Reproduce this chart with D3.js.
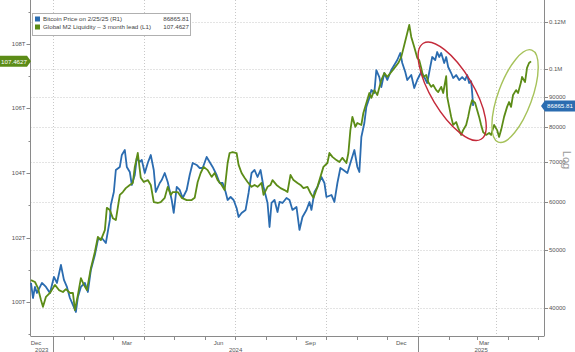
<!DOCTYPE html>
<html>
<head>
<meta charset="utf-8">
<script src="https://cdn.jsdelivr.net/npm/d3@7"></script>
<style>
  body { margin: 0; background: #fff; }
  svg { display: block; }
  text { font-family: "Liberation Sans", Arial, sans-serif; }
</style>
</head>
<body>
<div id="graphic"></div>
<script>
// bitcoin price (right axis, log) and global M2 shifted 3 months (left axis)

var btcDates = ["2023-12-10","2023-12-12","2023-12-14","2023-12-16","2023-12-21","2023-12-25","2023-12-29",
  "2024-01-02","2024-01-05","2024-01-09","2024-01-12","2024-01-15","2024-01-18","2024-01-21","2024-01-24","2024-01-26","2024-01-29",
  "2024-02-02","2024-02-05","2024-02-08","2024-02-12","2024-02-15","2024-02-19","2024-02-23","2024-02-27","2024-02-28",
  "2024-03-02","2024-03-04","2024-03-08","2024-03-10","2024-03-13","2024-03-15","2024-03-18","2024-03-20","2024-03-23","2024-03-25","2024-03-28","2024-03-30",
  "2024-04-02","2024-04-05","2024-04-08","2024-04-11","2024-04-13","2024-04-17","2024-04-19","2024-04-22","2024-04-25","2024-04-29",
  "2024-05-01","2024-05-04","2024-05-07","2024-05-10","2024-05-14","2024-05-17","2024-05-20","2024-05-24","2024-05-27","2024-05-30",
  "2024-06-03","2024-06-06","2024-06-09","2024-06-13","2024-06-16","2024-06-19","2024-06-22","2024-06-24","2024-06-27","2024-06-30",
  "2024-07-03","2024-07-05","2024-07-08","2024-07-12","2024-07-15","2024-07-18","2024-07-21","2024-07-24","2024-07-27","2024-07-30",
  "2024-08-03","2024-08-05","2024-08-07","2024-08-10","2024-08-13","2024-08-15","2024-08-18","2024-08-22","2024-08-25","2024-08-28",
  "2024-09-01","2024-09-04","2024-09-07","2024-09-11","2024-09-14","2024-09-16","2024-09-19","2024-09-22","2024-09-26","2024-09-29",
  "2024-10-01","2024-10-06","2024-10-09","2024-10-12","2024-10-15","2024-10-18","2024-10-22","2024-10-25","2024-10-29",
  "2024-11-01","2024-11-03","2024-11-05","2024-11-08","2024-11-10","2024-11-13","2024-11-15","2024-11-18","2024-11-20","2024-11-23","2024-11-25","2024-11-28",
  "2024-12-01","2024-12-05","2024-12-08","2024-12-11","2024-12-14","2024-12-16","2024-12-19","2024-12-21","2024-12-25","2024-12-28","2024-12-31",
  "2025-01-04","2025-01-07","2025-01-10","2025-01-13","2025-01-15","2025-01-18","2025-01-20","2025-01-22","2025-01-24","2025-01-27","2025-01-29","2025-01-31",
  "2025-02-03","2025-02-05","2025-02-08","2025-02-11","2025-02-14","2025-02-17","2025-02-19","2025-02-21","2025-02-23","2025-02-24","2025-02-25"];

var btcPrice = [44030,41560,43360,42370,44030,43360,42370,
  45060,44030,47170,44540,43360,41560,40460,39390,41720,43360,
  44030,42530,46280,49020,51930,52330,51330,56080,59390,
  62430,67930,68720,71960,73350,68720,67410,64130,66640,71130,70050,70590,
  67150,69780,71960,67930,62430,64620,65370,67150,64870,60540,
  57600,63640,62910,61010,62910,66640,69780,69250,68450,68450,
  71410,70050,68720,66640,64620,64620,62430,60540,61240,60540,
  58710,56720,57600,58270,62190,67150,67930,66130,67930,63640,
  59850,54580,59850,60540,57820,60080,59850,61010,60540,58270,
  58940,53960,56720,58270,60080,58270,62430,63640,66130,64620,
  61240,61720,60080,64620,68450,67930,67150,69780,73350,
  68720,67410,77100,81360,86510,89550,92340,91290,99700,97060,93410,98560,
  95950,99700,101640,103610,106430,102420,98940,95950,97810,93050,95950,
  98940,97060,94860,100860,104810,103610,106840,104810,106430,102420,104810,100860,
  98560,96690,97810,95950,97060,95950,97810,94860,95500,91500,86865.81];

var m2Dates = ["2023-12-10","2023-12-14","2023-12-17","2023-12-20","2023-12-22","2023-12-25","2023-12-29",
  "2024-01-01","2024-01-03","2024-01-07","2024-01-11","2024-01-14","2024-01-18","2024-01-21","2024-01-23","2024-01-26","2024-01-29",
  "2024-02-01","2024-02-04","2024-02-08","2024-02-12","2024-02-15","2024-02-18","2024-02-22","2024-02-24","2024-02-27",
  "2024-03-01","2024-03-04","2024-03-08","2024-03-11","2024-03-14","2024-03-18","2024-03-21","2024-03-23","2024-03-26","2024-03-29",
  "2024-04-01","2024-04-05","2024-04-08","2024-04-11","2024-04-15","2024-04-18","2024-04-22","2024-04-25","2024-04-28","2024-04-30",
  "2024-05-05","2024-05-09","2024-05-14","2024-05-19","2024-05-22","2024-05-25","2024-05-28","2024-05-31",
  "2024-06-04","2024-06-08","2024-06-11","2024-06-14","2024-06-18","2024-06-21","2024-06-24","2024-06-26","2024-06-29",
  "2024-07-03","2024-07-05","2024-07-08","2024-07-11","2024-07-14","2024-07-18","2024-07-21","2024-07-24","2024-07-28","2024-07-30",
  "2024-08-03","2024-08-06","2024-08-08","2024-08-12","2024-08-16","2024-08-20","2024-08-23","2024-08-26","2024-08-29",
  "2024-09-02","2024-09-05","2024-09-08","2024-09-12","2024-09-15","2024-09-18","2024-09-22","2024-09-25","2024-09-28",
  "2024-10-02","2024-10-04","2024-10-07","2024-10-11","2024-10-14","2024-10-17","2024-10-21","2024-10-23","2024-10-25","2024-10-27","2024-10-30",
  "2024-11-01","2024-11-05","2024-11-07","2024-11-10","2024-11-13","2024-11-15","2024-11-18","2024-11-21","2024-11-25","2024-11-28",
  "2024-12-01","2024-12-05","2024-12-09","2024-12-12","2024-12-15","2024-12-18","2024-12-21","2024-12-23","2024-12-25","2024-12-28","2024-12-31",
  "2025-01-02","2025-01-04","2025-01-06","2025-01-09","2025-01-11","2025-01-14","2025-01-16","2025-01-19","2025-01-21","2025-01-24","2025-01-26","2025-01-29","2025-01-30",
  "2025-02-01","2025-02-03","2025-02-05","2025-02-08","2025-02-10","2025-02-13","2025-02-15","2025-02-18","2025-02-20","2025-02-22","2025-02-24","2025-02-27",
  "2025-03-01","2025-03-03","2025-03-05","2025-03-07","2025-03-10","2025-03-13","2025-03-15","2025-03-18","2025-03-21","2025-03-23","2025-03-25","2025-03-28","2025-03-31",
  "2025-04-02","2025-04-04","2025-04-06","2025-04-09","2025-04-11","2025-04-14","2025-04-15","2025-04-18","2025-04-20","2025-04-22","2025-04-24"];

var m2Liquidity = [100.68,100.62,100.43,100.06,99.85,100.16,100.28,
  100.43,100.53,100.37,100.31,100.40,100.28,100.28,99.75,100.22,100.74,
  100.53,100.37,101.05,101.55,102.02,101.92,102.23,102.92,102.85,
  102.60,102.54,103.32,103.41,103.53,103.63,103.69,104.19,104.62,103.85,
  103.72,103.78,103.63,103.10,103.07,103.10,103.23,103.57,103.32,103.41,
  103.41,103.23,103.16,103.16,103.23,103.72,104.00,104.19,
  104.09,103.88,104.00,103.78,103.63,103.47,104.31,104.62,104.65,
  104.62,104.25,104.00,103.85,103.72,103.57,103.63,103.57,103.69,103.32,
  103.57,103.63,103.78,103.63,103.53,103.47,103.41,103.94,103.78,
  103.69,103.63,103.53,103.57,103.38,103.23,103.57,103.88,104.19,
  104.31,104.62,104.50,104.40,104.34,104.47,104.31,104.62,105.33,105.74,105.43,
  105.55,105.49,105.86,106.17,106.48,106.33,106.57,106.42,106.88,107.10,
  106.98,107.13,107.29,107.41,107.60,107.97,108.34,108.59,108.22,107.91,107.57,
  107.50,107.26,106.98,107.04,106.82,106.67,106.73,106.57,106.51,106.67,106.48,107.00,106.36,
  106.05,105.74,105.49,105.58,105.40,105.18,105.33,105.49,105.74,106.05,106.26,106.17,
  105.95,105.74,105.49,105.27,105.18,105.24,105.18,105.49,105.33,105.12,105.33,105.74,106.05,
  106.20,106.05,106.42,106.57,106.48,106.82,106.98,106.82,107.26,107.41,107.4627];

var leftTicks = [100, 102, 104, 106, 108];
var leftTickLabels = ["100T", "102T", "104T", "106T", "108T"];
var rightTicks = [40000, 50000, 60000, 70000, 80000, 90000, 100000, 120000];
var rightTickLabels = ["40000", "50000", "60000", "70000", "80000", "90000", "0.1M", "0.12M"];
var monthLabels = ["Dec", "Mar", "Jun", "Sep", "Dec", "Mar"];
var monthLabelDates = ["2023-12-15", "2024-03-15", "2024-06-15", "2024-09-15", "2024-12-15", "2025-03-08"];
var yearLabels = ["2023", "2024", "2025"];
var gridDates = ["2024-01-01", "2024-04-01", "2024-07-01", "2024-10-01", "2025-01-01", "2025-03-20"];

var legendNames = ["Bitcoin Price on 2/25/25 (R1)", "Global M2 Liquidity \u2013 3 month lead (L1)"];
var legendValues = ["86865.81", "107.4627"];

var blue = "#2b6cb0", green = "#5c8c17";

var width = 575, height = 352;
var plot = { left: 30.5, right: 544, top: 5, bottom: 336 };

var svg = d3.select("#graphic").append("svg")
    .attr("width", width)
    .attr("height", height);

var parse = d3.utcParse("%Y-%m-%d");

var x = d3.scaleUtc()
    .domain([new Date(Date.UTC(2023, 11, 9, 12)), new Date(Date.UTC(2025, 4, 7))])
    .range([plot.left, plot.right]);

var yR = d3.scaleLog()
    .domain([35917, 127970])
    .range([plot.bottom, plot.top]);

var yL = d3.scaleLinear()
    .domain([98.946, 109.209])
    .range([plot.bottom, plot.top]);

var btc = btcDates.map(function (d, i) { return { date: parse(d), value: btcPrice[i] }; });
var m2 = m2Dates.map(function (d, i) { return { date: parse(d), value: m2Liquidity[i] }; });

// grid
svg.append("g").selectAll("line")
    .data(rightTicks).enter().append("line")
    .attr("x1", plot.left).attr("x2", plot.right)
    .attr("y1", function (d) { return Math.round(yR(d)) + 0.5; })
    .attr("y2", function (d) { return Math.round(yR(d)) + 0.5; })
    .attr("stroke", "#c8c8c8").attr("stroke-dasharray", "1,2");

svg.append("g").selectAll("line")
    .data(gridDates).enter().append("line")
    .attr("x1", function (d) { return Math.round(x(parse(d))) + 0.5; })
    .attr("x2", function (d) { return Math.round(x(parse(d))) + 0.5; })
    .attr("y1", 0).attr("y2", plot.bottom)
    .attr("stroke", "#c8c8c8").attr("stroke-dasharray", "1,2");

// axes frame
var axisColor = "#8a8a8a";
svg.append("line").attr("x1", plot.left).attr("x2", plot.left).attr("y1", 0).attr("y2", plot.bottom).attr("stroke", axisColor);
svg.append("line").attr("x1", plot.right + 0.5).attr("x2", plot.right + 0.5).attr("y1", 0).attr("y2", plot.bottom).attr("stroke", axisColor);
svg.append("line").attr("x1", plot.left).attr("x2", plot.right + 0.5).attr("y1", plot.bottom + 0.5).attr("y2", plot.bottom + 0.5).attr("stroke", axisColor);

// left axis
var left = svg.append("g");
left.selectAll("line.major").data(leftTicks).enter().append("line")
    .attr("x1", plot.left - 4).attr("x2", plot.left)
    .attr("y1", function (d) { return Math.round(yL(d)) + 0.5; })
    .attr("y2", function (d) { return Math.round(yL(d)) + 0.5; })
    .attr("stroke", axisColor);
left.selectAll("line.minor").data(d3.range(99, 110, 2)).enter().append("line")
    .attr("x1", plot.left - 2).attr("x2", plot.left)
    .attr("y1", function (d) { return Math.round(yL(d)) + 0.5; })
    .attr("y2", function (d) { return Math.round(yL(d)) + 0.5; })
    .attr("stroke", axisColor);
left.selectAll("text").data(leftTicks).enter().append("text")
    .attr("x", plot.left - 5)
    .attr("y", function (d) { return yL(d) + 2; })
    .attr("text-anchor", "end")
    .attr("font-size", 6)
    .attr("fill", "#555")
    .text(function (d, i) { return leftTickLabels[i]; });

// right axis
var right = svg.append("g");
right.selectAll("line").data(rightTicks).enter().append("line")
    .attr("x1", plot.right).attr("x2", plot.right + 4)
    .attr("y1", function (d) { return Math.round(yR(d)) + 0.5; })
    .attr("y2", function (d) { return Math.round(yR(d)) + 0.5; })
    .attr("stroke", axisColor);
right.selectAll("text").data(rightTicks).enter().append("text")
    .attr("x", plot.right + 5)
    .attr("y", function (d) { return yR(d) + 2; })
    .attr("font-size", 6)
    .attr("fill", "#555")
    .text(function (d, i) { return rightTickLabels[i]; });

svg.append("text")
    .attr("transform", "translate(563,160) rotate(90)")
    .attr("text-anchor", "middle")
    .attr("font-size", 11)
    .attr("fill", "#9a9a9a")
    .text("Log");

// x axis
var months = d3.utcMonth.range(new Date(Date.UTC(2024, 0, 1)), x.domain()[1]);
svg.append("g").selectAll("line").data(months).enter().append("line")
    .attr("x1", function (d) { return Math.round(x(d)) + 0.5; })
    .attr("x2", function (d) { return Math.round(x(d)) + 0.5; })
    .attr("y1", plot.bottom).attr("y2", plot.bottom + 4)
    .attr("stroke", axisColor);

svg.append("g").selectAll("line")
    .data(d3.utcYear.range(x.domain()[0], x.domain()[1])).enter().append("line")
    .attr("x1", function (d) { return Math.round(x(d)) + 0.5; })
    .attr("x2", function (d) { return Math.round(x(d)) + 0.5; })
    .attr("y1", plot.bottom).attr("y2", height)
    .attr("stroke", axisColor);

svg.append("g").selectAll("text").data(monthLabels).enter().append("text")
    .attr("x", function (d, i) { return x(parse(monthLabelDates[i])); })
    .attr("y", plot.bottom + 9)
    .attr("text-anchor", "middle")
    .attr("font-size", 6)
    .attr("fill", "#555")
    .text(function (d) { return d; });

svg.append("g").selectAll("text").data(yearLabels).enter().append("text")
    .attr("x", function (d) {
      var y0 = new Date(Date.UTC(+d, 0, 1)), y1 = new Date(Date.UTC(+d + 1, 0, 1));
      var a = x(d3.max([y0, x.domain()[0]])), b = x(d3.min([y1, x.domain()[1]]));
      return (a + b) / 2;
    })
    .attr("y", plot.bottom + 16)
    .attr("text-anchor", "middle")
    .attr("font-size", 6)
    .attr("fill", "#555")
    .text(function (d) { return d; });

// lines
var btcLine = d3.line()
    .x(function (d) { return x(d.date); })
    .y(function (d) { return yR(d.value); });
var m2Line = d3.line()
    .x(function (d) { return x(d.date); })
    .y(function (d) { return yL(d.value); });

svg.append("path").datum(btc)
    .attr("d", btcLine)
    .attr("fill", "none").attr("stroke", blue)
    .attr("stroke-width", 1.8).attr("stroke-linejoin", "round");

svg.append("path").datum(m2)
    .attr("d", m2Line)
    .attr("fill", "none").attr("stroke", green)
    .attr("stroke-width", 1.8).attr("stroke-linejoin", "round");

// annotation ellipses
var rings = [
  { date: "2025-02-04", value: 91900, rx: 56, ry: 21, angle: 59, color: "#c42a3a" },
  { date: "2025-04-08", value: 90200, rx: 49, ry: 17, angle: -70, color: "#a6c25a" }
];
svg.append("g").selectAll("ellipse").data(rings).enter().append("ellipse")
    .attr("transform", function (d) {
      return "translate(" + x(parse(d.date)) + "," + yR(d.value) + ") rotate(" + d.angle + ")";
    })
    .attr("rx", function (d) { return d.rx; })
    .attr("ry", function (d) { return d.ry; })
    .attr("fill", "none")
    .attr("stroke", function (d) { return d.color; })
    .attr("stroke-width", 1.4);

// last value tags
var lastBtc = btc[btc.length - 1], lastM2 = m2[m2.length - 1];
var by = yR(lastBtc.value);
svg.append("path")
    .attr("d", "M541," + by + "L545," + (by - 5.5) + "H575V" + (by + 5.5) + "H545Z")
    .attr("fill", blue);
svg.append("text")
    .attr("x", 560).attr("y", by + 2.2)
    .attr("text-anchor", "middle").attr("font-size", 6.2).attr("fill", "#fff")
    .text(legendValues[0]);

var gy = yL(lastM2.value);
svg.append("path")
    .attr("d", "M0," + (gy - 5.5) + "H27L31," + gy + "L27," + (gy + 5.5) + "H0Z")
    .attr("fill", green);
svg.append("text")
    .attr("x", 14).attr("y", gy + 2.2)
    .attr("text-anchor", "middle").attr("font-size", 6.2).attr("fill", "#fff")
    .text(legendValues[1]);

// legend
var legend = svg.append("g");
legend.append("rect")
    .attr("x", 32.5).attr("y", 13.5).attr("width", 158).attr("height", 22)
    .attr("fill", "#fff").attr("stroke", "#b0b0b0");
var rows = legend.selectAll("g.row").data(legendNames).enter().append("g")
    .attr("transform", function (d, i) { return "translate(0," + (19 + i * 8) + ")"; });
rows.append("rect")
    .attr("x", 35).attr("y", -2.5).attr("width", 5).attr("height", 5)
    .attr("fill", function (d, i) { return i === 0 ? blue : green; });
rows.append("text")
    .attr("x", 43).attr("y", 2.2)
    .attr("font-size", 6.2).attr("fill", "#444")
    .text(function (d) { return d; });
rows.append("text")
    .attr("x", 189).attr("y", 2.2)
    .attr("text-anchor", "end")
    .attr("font-size", 6.2).attr("fill", "#444")
    .text(function (d, i) { return legendValues[i]; });
</script>
</body>
</html>
